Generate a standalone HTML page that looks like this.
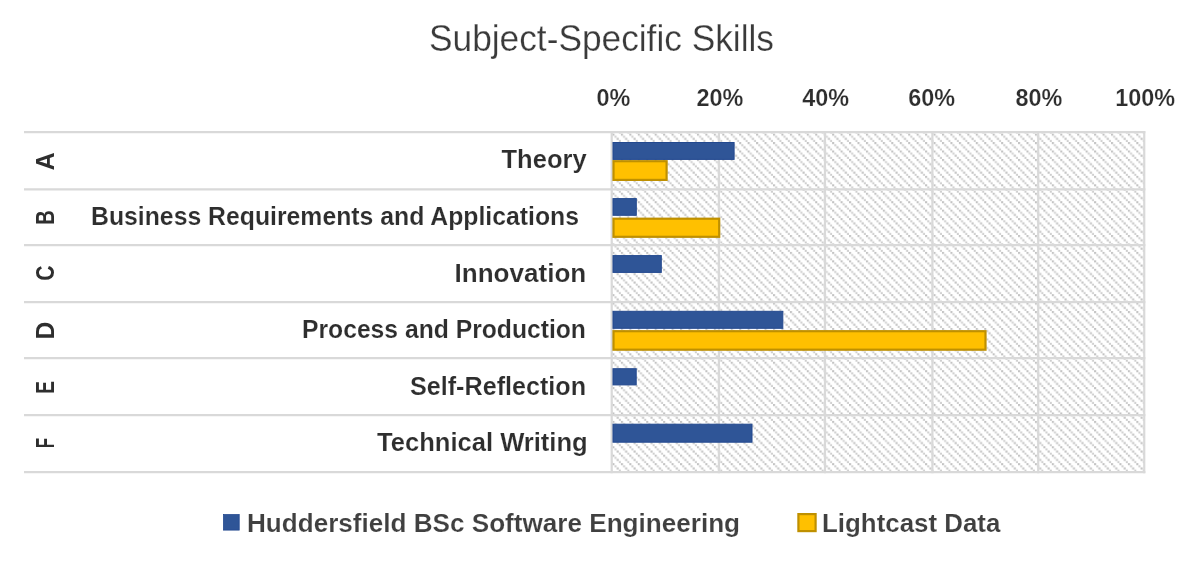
<!DOCTYPE html><html><head><meta charset="utf-8"><style>html,body{margin:0;padding:0;background:#fff;width:1200px;height:563px;overflow:hidden}svg{display:block;will-change:transform}text{font-family:"Liberation Sans",sans-serif}</style></head><body>
<svg width="1200" height="563" viewBox="0 0 1200 563">
<defs><pattern id="h" patternUnits="userSpaceOnUse" x="4.024" y="6.844" width="8.45" height="8.45"><rect x="0.006" y="0.006" width="2.1" height="2.1" fill="#c3c3c3"/><rect x="2.169" y="2.169" width="2" height="2" fill="#cdcdcd"/><rect x="4.231" y="4.231" width="2.1" height="2.1" fill="#c3c3c3"/><rect x="6.394" y="6.394" width="2" height="2" fill="#cdcdcd"/></pattern></defs>
<rect width="1200" height="563" fill="#fff"/>
<text x="429" y="51" textLength="345" lengthAdjust="spacingAndGlyphs" font-size="36.5" fill="#3a3a3a" stroke="#fff" stroke-width="0.25">Subject-Specific Skills</text>
<text x="613.45" y="106" text-anchor="middle" font-size="23.4" font-weight="bold" fill="#2e2e2e" stroke="#fff" stroke-width="0.2">0%</text>
<text x="720.00" y="106" text-anchor="middle" font-size="23.4" font-weight="bold" fill="#2e2e2e" stroke="#fff" stroke-width="0.2">20%</text>
<text x="825.70" y="106" text-anchor="middle" font-size="23.4" font-weight="bold" fill="#2e2e2e" stroke="#fff" stroke-width="0.2">40%</text>
<text x="931.70" y="106" text-anchor="middle" font-size="23.4" font-weight="bold" fill="#2e2e2e" stroke="#fff" stroke-width="0.2">60%</text>
<text x="1039.00" y="106" text-anchor="middle" font-size="23.4" font-weight="bold" fill="#2e2e2e" stroke="#fff" stroke-width="0.2">80%</text>
<text x="1145.20" y="106" text-anchor="middle" font-size="23.4" font-weight="bold" fill="#2e2e2e" stroke="#fff" stroke-width="0.2">100%</text>
<rect x="611.7" y="132.2" width="532.55" height="340.0" fill="url(#h)"/>
<line x1="611.70" y1="131.20" x2="611.70" y2="473.20" stroke="#d9d9d9" stroke-width="2.2"/>
<line x1="718.90" y1="131.20" x2="718.90" y2="473.20" stroke="#d9d9d9" stroke-width="2.2"/>
<line x1="825.00" y1="131.20" x2="825.00" y2="473.20" stroke="#d9d9d9" stroke-width="2.2"/>
<line x1="932.40" y1="131.20" x2="932.40" y2="473.20" stroke="#d9d9d9" stroke-width="2.2"/>
<line x1="1038.20" y1="131.20" x2="1038.20" y2="473.20" stroke="#d9d9d9" stroke-width="2.2"/>
<line x1="1144.25" y1="131.20" x2="1144.25" y2="473.20" stroke="#d9d9d9" stroke-width="2.2"/>
<line x1="24" y1="132.20" x2="1145.35" y2="132.20" stroke="#d9d9d9" stroke-width="2.2"/>
<line x1="24" y1="189.30" x2="1145.35" y2="189.30" stroke="#d9d9d9" stroke-width="2.2"/>
<line x1="24" y1="245.10" x2="1145.35" y2="245.10" stroke="#d9d9d9" stroke-width="2.2"/>
<line x1="24" y1="302.10" x2="1145.35" y2="302.10" stroke="#d9d9d9" stroke-width="2.2"/>
<line x1="24" y1="358.10" x2="1145.35" y2="358.10" stroke="#d9d9d9" stroke-width="2.2"/>
<line x1="24" y1="415.10" x2="1145.35" y2="415.10" stroke="#d9d9d9" stroke-width="2.2"/>
<line x1="24" y1="472.20" x2="1145.35" y2="472.20" stroke="#d9d9d9" stroke-width="2.2"/>
<rect x="613.00" y="142.50" width="121.10" height="16.90" fill="#2f5597" stroke="#23498f" stroke-width="1"/>
<rect x="613.50" y="161.20" width="53.10" height="18.70" fill="#ffc000" stroke="#bf9000" stroke-width="2.2"/>
<rect x="613.00" y="198.60" width="23.30" height="16.70" fill="#2f5597" stroke="#23498f" stroke-width="1"/>
<rect x="613.50" y="218.70" width="105.70" height="18.10" fill="#ffc000" stroke="#bf9000" stroke-width="2.2"/>
<rect x="613.00" y="255.60" width="48.30" height="16.80" fill="#2f5597" stroke="#23498f" stroke-width="1"/>
<rect x="613.00" y="311.30" width="169.80" height="17.00" fill="#2f5597" stroke="#23498f" stroke-width="1"/>
<rect x="613.50" y="331.20" width="372.00" height="18.50" fill="#ffc000" stroke="#bf9000" stroke-width="2.2"/>
<rect x="613.00" y="368.70" width="23.20" height="16.20" fill="#2f5597" stroke="#23498f" stroke-width="1"/>
<rect x="613.00" y="424.20" width="139.00" height="18.00" fill="#2f5597" stroke="#23498f" stroke-width="1"/>
<text x="501.5" y="168.00" textLength="85.18" lengthAdjust="spacingAndGlyphs" font-size="25" font-weight="bold" fill="#2e2e2e" stroke="#fff" stroke-width="0.15">Theory</text>
<text x="91.0" y="225.40" textLength="488.02" lengthAdjust="spacingAndGlyphs" font-size="25" font-weight="bold" fill="#2e2e2e" stroke="#fff" stroke-width="0.15">Business Requirements and Applications</text>
<text x="454.5" y="282.20" textLength="131.74" lengthAdjust="spacingAndGlyphs" font-size="25" font-weight="bold" fill="#2e2e2e" stroke="#fff" stroke-width="0.15">Innovation</text>
<text x="302.0" y="338.20" textLength="283.93" lengthAdjust="spacingAndGlyphs" font-size="25" font-weight="bold" fill="#2e2e2e" stroke="#fff" stroke-width="0.15">Process and Production</text>
<text x="410.0" y="395.00" textLength="176.05" lengthAdjust="spacingAndGlyphs" font-size="25" font-weight="bold" fill="#2e2e2e" stroke="#fff" stroke-width="0.15">Self-Reflection</text>
<text x="377.0" y="451.00" textLength="210.7" lengthAdjust="spacingAndGlyphs" font-size="25" font-weight="bold" fill="#2e2e2e" stroke="#fff" stroke-width="0.15">Technical Writing</text>
<text transform="translate(54.3 161.25) rotate(-90)" x="0" y="0" text-anchor="middle" textLength="18.30" lengthAdjust="spacingAndGlyphs" font-size="25" font-weight="bold" fill="#2e2e2e">A</text>
<text transform="translate(54.3 217.60) rotate(-90)" x="0" y="0" text-anchor="middle" textLength="14.46" lengthAdjust="spacingAndGlyphs" font-size="25" font-weight="bold" fill="#2e2e2e">B</text>
<text transform="translate(54.3 273.00) rotate(-90)" x="0" y="0" text-anchor="middle" textLength="15.37" lengthAdjust="spacingAndGlyphs" font-size="25" font-weight="bold" fill="#2e2e2e">C</text>
<text transform="translate(54.3 330.60) rotate(-90)" x="0" y="0" text-anchor="middle" textLength="17.84" lengthAdjust="spacingAndGlyphs" font-size="25" font-weight="bold" fill="#2e2e2e">D</text>
<text transform="translate(54.3 387.30) rotate(-90)" x="0" y="0" text-anchor="middle" textLength="12.67" lengthAdjust="spacingAndGlyphs" font-size="25" font-weight="bold" fill="#2e2e2e">E</text>
<text transform="translate(54.3 442.95) rotate(-90)" x="0" y="0" text-anchor="middle" textLength="10.39" lengthAdjust="spacingAndGlyphs" font-size="25" font-weight="bold" fill="#2e2e2e">F</text>
<rect x="223.5" y="514.6" width="15.7" height="15.5" fill="#2f5597" stroke="#23498f" stroke-width="0.8"/>
<text x="247" y="531.6" textLength="493.02" lengthAdjust="spacingAndGlyphs" font-size="26" font-weight="bold" fill="#404040" stroke="#fff" stroke-width="0.15">Huddersfield BSc Software Engineering</text>
<rect x="798.4" y="514.1" width="17.2" height="17" fill="#ffc000" stroke="#bf9000" stroke-width="2.2"/>
<text x="822" y="531.6" textLength="178.36" lengthAdjust="spacingAndGlyphs" font-size="26" font-weight="bold" fill="#404040" stroke="#fff" stroke-width="0.15">Lightcast Data</text>
</svg></body></html>
